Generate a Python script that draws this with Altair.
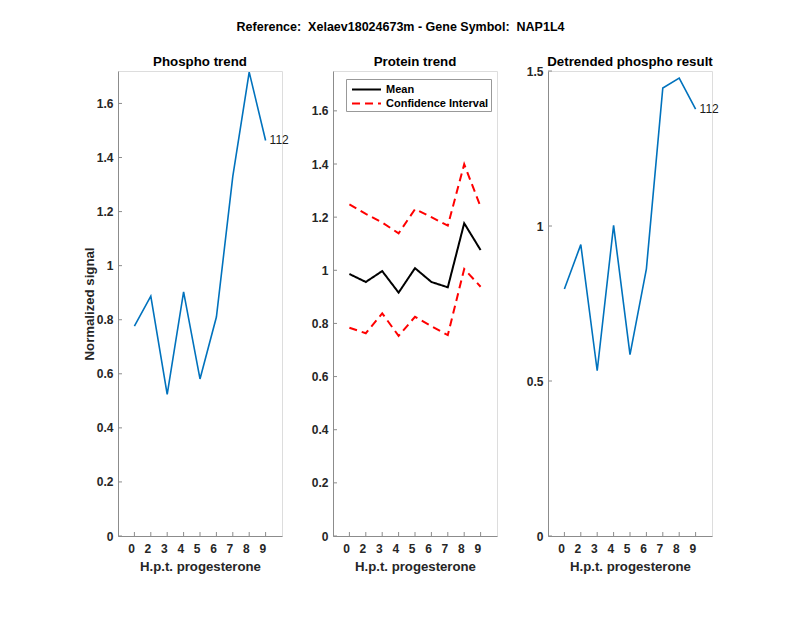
import altair as alt
import pandas as pd

# ---- data ----
hours = ["0", "2", "3", "4", "5", "6", "7", "8", "9"]
phospho = [0.776, 0.887, 0.524, 0.903, 0.581, 0.810, 1.330, 1.716, 1.463]
protein_mean = [0.986, 0.956, 0.997, 0.916, 1.008, 0.956, 0.936, 1.177, 1.076]
ci_upper = [1.248, 1.212, 1.180, 1.139, 1.230, 1.200, 1.168, 1.399, 1.239]
ci_lower = [0.784, 0.763, 0.838, 0.753, 0.825, 0.790, 0.756, 1.005, 0.938]
detrended = [0.797, 0.940, 0.533, 1.002, 0.585, 0.862, 1.445, 1.477, 1.377]
peptide_label = "112"
ticks_a = [0, 0.2, 0.4, 0.6, 0.8, 1, 1.2, 1.4, 1.6]
ticks_c = [0, 0.5, 1, 1.5]
legend_items = ["Mean", "Confidence Interval"]
panel_titles = ["Phospho trend", "Protein trend", "Detrended phospho result"]
main_title = "Reference:\u00a0 Xelaev18024673m - Gene Symbol:\u00a0 NAP1L4"

FONT = "Liberation Sans"
W, H = 164, 465
AXC = "#8c8c8c"
LBC = "#262626"
BLUE = "#0072BD"

df_hours = pd.DataFrame({"hour": hours})


def xenc():
    return alt.X(
        "hour:N", sort=hours,
        scale=alt.Scale(type="point", padding=1),
        axis=alt.Axis(title="H.p.t. progesterone", labelAngle=0, ticks=False,
                      domainColor=AXC, labelColor=LBC, labelFont=FONT,
                      labelFontSize=12, labelFontWeight="bold", labelPadding=12,
                      titleFont=FONT, titleFontSize=13.2, titleFontWeight="bold",
                      titleColor=LBC, titlePadding=6, grid=False),
    )


def yaxis(values, title=None):
    kw = dict(values=values, format=".1~f", ticks=False, domainColor=AXC,
              labelColor=LBC, labelFont=FONT, labelFontSize=12,
              labelFontWeight="bold", labelPadding=5, grid=False,
              titleFont=FONT, titleFontSize=13.2, titleFontWeight="bold",
              titleColor=LBC, titlePadding=0)
    kw["title"] = title if title else None
    return alt.Axis(**kw)


def extras(values, domain, ttl):
    yt = alt.Chart(pd.DataFrame({"value": values})).mark_rule(color=AXC, strokeWidth=1).encode(
        y=alt.Y("value:Q", scale=alt.Scale(domain=domain, nice=False, zero=True)),
        x=alt.value(0), x2=alt.value(4))
    xt = alt.Chart(df_hours).mark_rule(color=AXC, strokeWidth=1).encode(
        x=alt.X("hour:N", sort=hours, scale=alt.Scale(type="point", padding=1)),
        y=alt.value(H), y2=alt.value(H - 4))
    tt = alt.Chart(pd.DataFrame({"t": [ttl]})).mark_text(
        font=FONT, fontSize=13.3, fontWeight="bold", color="black", align="center", baseline="middle").encode(
        text="t:N", x=alt.value(W / 2), y=alt.value(-9))
    return [yt, xt, tt]


# Panel 1
dom1 = [0, 1.72]
d1 = pd.DataFrame({"hour": hours, "value": phospho})
l1 = alt.Chart(d1).mark_line(color=BLUE, strokeWidth=1.6).encode(
    x=xenc(),
    y=alt.Y("value:Q", scale=alt.Scale(domain=dom1, nice=False), axis=yaxis(ticks_a, "Normalized signal")))
lab1 = alt.Chart(pd.DataFrame({"hour": [hours[-1]], "value": [phospho[-1]], "t": [peptide_label]})).mark_text(
    align="left", dx=4, dy=0, font=FONT, fontSize=12, color="#1a1a1a").encode(
    x=alt.X("hour:N", sort=hours), y="value:Q", text="t:N")
p1 = alt.layer(*extras(ticks_a, dom1, panel_titles[0]), l1, lab1).properties(width=W, height=H)

# Panel 2
dom2 = [0, 1.75]
rows = []
for h, m, u, lo in zip(hours, protein_mean, ci_upper, ci_lower):
    rows.append({"hour": h, "value": m, "series": "mean", "group": legend_items[0]})
    rows.append({"hour": h, "value": u, "series": "upper", "group": legend_items[1]})
    rows.append({"hour": h, "value": lo, "series": "lower", "group": legend_items[1]})
d2 = pd.DataFrame(rows)
leg = alt.Legend(title=None, orient="none", legendX=13, legendY=8, symbolType="M-2,0H2",
                 fillColor="white", strokeColor="#999999", padding=2, rowPadding=0,
                 labelFont=FONT, labelFontSize=11, labelFontWeight="bold", labelColor="black",
                 symbolStrokeWidth=2, symbolSize=210, symbolOffset=10, labelOffset=11,
                 symbolFillColor="transparent")
l2 = alt.Chart(d2).mark_line(strokeWidth=2).encode(
    x=xenc(),
    y=alt.Y("value:Q", scale=alt.Scale(domain=dom2, nice=False), axis=yaxis(ticks_a)),
    color=alt.Color("group:N", scale=alt.Scale(domain=legend_items, range=["black", "red"]), legend=leg),
    strokeDash=alt.StrokeDash("group:N", scale=alt.Scale(domain=legend_items, range=[[1, 0], [8, 5]]), legend=leg),
    detail="series:N")
p2 = alt.layer(*extras(ticks_a, dom2, panel_titles[1]), l2).properties(width=W, height=H)

# Panel 3
dom3 = [0, 1.5]
d3 = pd.DataFrame({"hour": hours, "value": detrended})
l3 = alt.Chart(d3).mark_line(color=BLUE, strokeWidth=1.6).encode(
    x=xenc(),
    y=alt.Y("value:Q", scale=alt.Scale(domain=dom3, nice=False), axis=yaxis(ticks_c)))
lab3 = alt.Chart(pd.DataFrame({"hour": [hours[-1]], "value": [detrended[-1]], "t": [peptide_label]})).mark_text(
    align="left", dx=4, dy=0, font=FONT, fontSize=12, color="#1a1a1a").encode(
    x=alt.X("hour:N", sort=hours), y="value:Q", text="t:N")
p3 = alt.layer(*extras(ticks_c, dom3, panel_titles[2]), l3, lab3).properties(width=W, height=H)

chart = alt.hconcat(p1, p2, p3, spacing=51, bounds="flush").resolve_scale(
    y="independent", color="independent", strokeDash="independent").properties(
    title=alt.TitleParams(main_title, font=FONT,
                          fontSize=12.5, fontWeight="bold", color="black", anchor="middle", offset=21),
    padding={"left": 73, "top": 13, "right": 10, "bottom": 10},
).configure_view(stroke=None).configure(background="white")

chart.save("out.html", embed_options={"renderer": "svg", "actions": False})
